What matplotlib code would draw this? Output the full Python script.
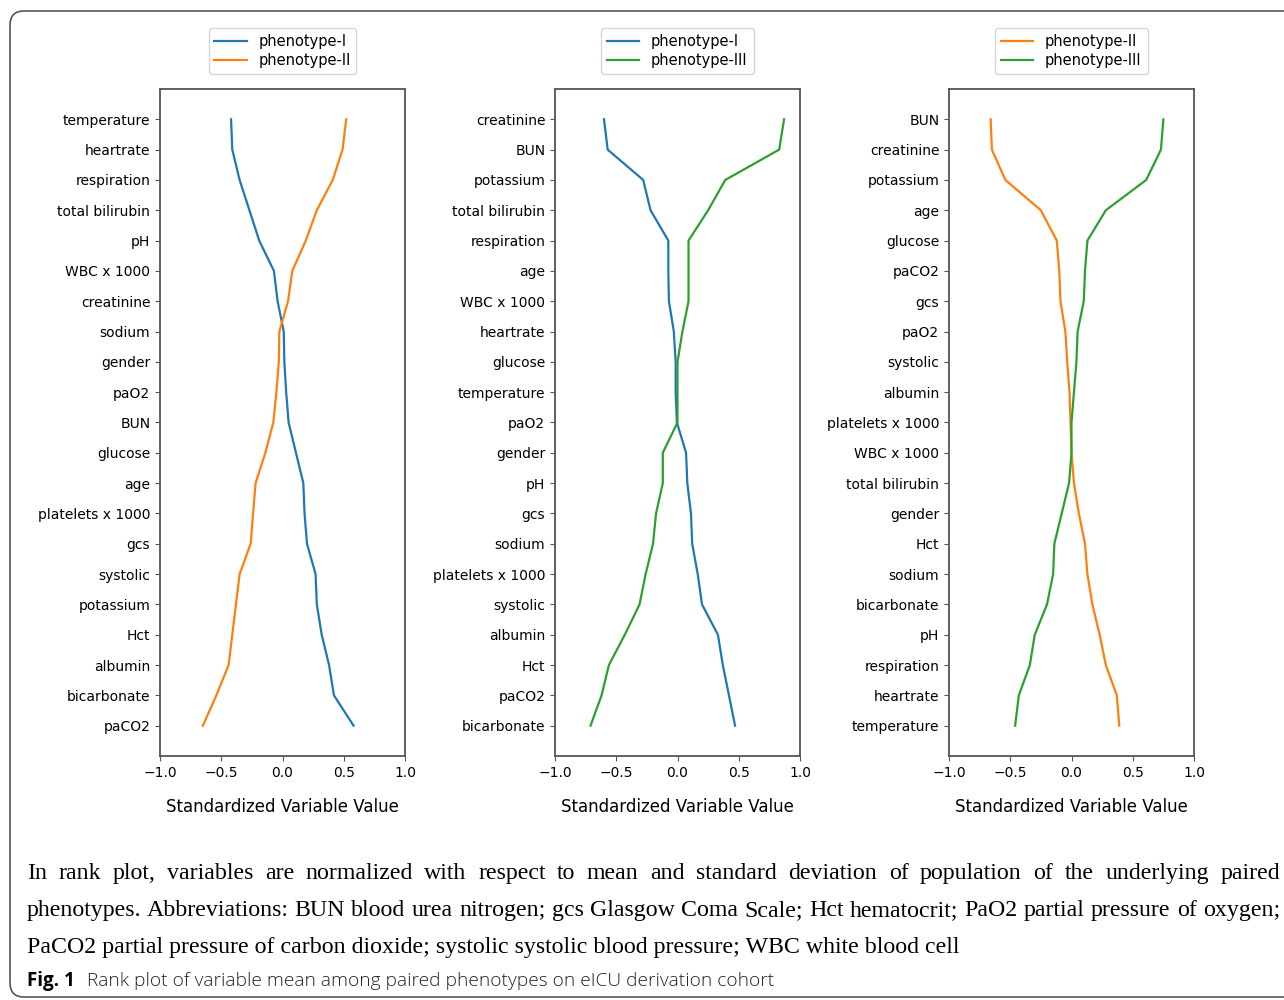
import matplotlib
matplotlib.use("Agg")
import matplotlib.pyplot as plt
from matplotlib.patches import FancyBboxPatch
from matplotlib.transforms import IdentityTransform

plt.rcParams["font.family"] = ["DejaVu Sans"]

# ---- data ----
labels_1 = ["temperature", "heartrate", "respiration", "total bilirubin", "pH",
            "WBC x 1000", "creatinine", "sodium", "gender", "paO2", "BUN",
            "glucose", "age", "platelets x 1000", "gcs", "systolic",
            "potassium", "Hct", "albumin", "bicarbonate", "paCO2"]
pheno1_p1 = [-0.42, -0.41, -0.35, -0.27, -0.19, -0.07, -0.04, 0.01, 0.015, 0.03,
             0.05, 0.11, 0.17, 0.18, 0.20, 0.27, 0.28, 0.32, 0.38, 0.42, 0.58]
pheno2_p1 = [0.52, 0.49, 0.41, 0.28, 0.19, 0.08, 0.045, -0.026, -0.03, -0.05,
             -0.075, -0.14, -0.22, -0.24, -0.26, -0.35, -0.38, -0.41, -0.44,
             -0.54, -0.65]

labels_2 = ["creatinine", "BUN", "potassium", "total bilirubin", "respiration",
            "age", "WBC x 1000", "heartrate", "glucose", "temperature", "paO2",
            "gender", "pH", "gcs", "sodium", "platelets x 1000", "systolic",
            "albumin", "Hct", "paCO2", "bicarbonate"]
pheno1_p2 = [-0.60, -0.57, -0.28, -0.22, -0.075, -0.075, -0.07, -0.03, -0.015,
             -0.015, -0.005, 0.07, 0.08, 0.11, 0.12, 0.165, 0.20, 0.33, 0.37,
             0.42, 0.47]
pheno3_p2 = [0.87, 0.83, 0.39, 0.25, 0.09, 0.09, 0.09, 0.04, 0.0, 0.0, 0.0,
             -0.12, -0.12, -0.175, -0.20, -0.26, -0.31, -0.43, -0.56, -0.62,
             -0.71]

labels_3 = ["BUN", "creatinine", "potassium", "age", "glucose", "paCO2", "gcs",
            "paO2", "systolic", "albumin", "platelets x 1000", "WBC x 1000",
            "total bilirubin", "gender", "Hct", "sodium", "bicarbonate", "pH",
            "respiration", "heartrate", "temperature"]
pheno2_p3 = [-0.66, -0.65, -0.54, -0.25, -0.12, -0.10, -0.09, -0.05, -0.035,
             -0.016, -0.008, 0.0, 0.02, 0.06, 0.11, 0.13, 0.17, 0.23, 0.28,
             0.37, 0.39]
pheno3_p3 = [0.75, 0.73, 0.61, 0.28, 0.13, 0.11, 0.10, 0.05, 0.04, 0.02, 0.0,
             0.0, -0.02, -0.08, -0.14, -0.15, -0.20, -0.30, -0.34, -0.43, -0.46]

xticks = [-1.0, -0.5, 0.0, 0.5, 1.0]

caption_justified = [
    "In rank plot, variables are normalized with respect to mean and standard "
    "deviation of population of the underlying paired",
    "phenotypes. Abbreviations: BUN blood urea nitrogen; gcs Glasgow Coma Scale; "
    "Hct hematocrit; PaO2 partial pressure of oxygen;",
]
caption_last = ("PaCO2 partial pressure of carbon dioxide; systolic systolic "
                "blood pressure; WBC white blood cell")
fig_title = "Rank plot of variable mean among paired phenotypes on eICU derivation cohort"

C_I, C_II, C_III = "#1f77b4", "#ff7f0e", "#2ca02c"

panels = [
    (labels_1, [(pheno1_p1, C_I, "phenotype-I"), (pheno2_p1, C_II, "phenotype-II")]),
    (labels_2, [(pheno1_p2, C_I, "phenotype-I"), (pheno3_p2, C_III, "phenotype-III")]),
    (labels_3, [(pheno2_p3, C_II, "phenotype-II"), (pheno3_p3, C_III, "phenotype-III")]),
]

W, H = 1284, 1000
fig = plt.figure(figsize=(W / 100, H / 100), dpi=100)

lefts = [160, 555, 949]
for left, (labels, series) in zip(lefts, panels):
    ax = fig.add_axes([left / W, (H - 756) / H, 245 / W, 667 / H])
    ypos = list(range(len(labels)))
    for vals, col, name in series:
        ax.plot(vals, ypos, color=col, lw=1.6, label=name)
    ax.set_yticks(ypos)
    ax.set_yticklabels(labels, fontsize=10)
    ax.set_ylim(len(labels), -1)
    ax.set_xlim(-1.0, 1.0)
    ax.set_xticks(xticks)
    ax.set_xticklabels(["\u22121.0", "\u22120.5", "0.0", "0.5", "1.0"], fontsize=10)
    ax.set_xlabel("Standardized Variable Value", fontsize=12, labelpad=13)
    for sp in ax.spines.values():
        sp.set_color("#555555")
        sp.set_linewidth(1.3)
    ax.tick_params(color="#555555")
    ax.legend(loc="lower center", bbox_to_anchor=(0.5, 1.022), borderaxespad=0,
              fontsize=10.5, handlelength=2.2, borderpad=0.4, labelspacing=0.3)

# outer rounded frame
frame = FancyBboxPatch((10, 3), W + 40, H - 14, boxstyle="round,pad=0,rounding_size=14",
                       transform=IdentityTransform(), fill=False,
                       edgecolor="#555555", linewidth=1.2)
fig.patches.append(frame)

# caption, first two lines justified
renderer = fig.canvas.get_renderer()
x0, x1 = 27, 1280
baselines = [879, 916, 953]
cap_font = dict(family="Liberation Serif", fontsize=17.2)


def text_width(s):
    t = fig.text(0, 0, s, **cap_font)
    w = t.get_window_extent(renderer).width
    t.remove()
    return w


for line, yb in zip(caption_justified, baselines):
    words = line.split(" ")
    extra = (x1 - x0 - text_width(line)) / (len(words) - 1)
    for i, w in enumerate(words):
        prefix = " ".join(words[:i + 1])
        x = x0 + text_width(prefix) - text_width(w) + i * extra
        fig.text(x / W, (H - yb) / H, w, va="baseline", ha="left", **cap_font)
fig.text(x0 / W, (H - baselines[2]) / H, caption_last, va="baseline", ha="left",
         **cap_font)

fig.text(27 / W, (H - 986) / H, "Fig. 1", va="baseline", ha="left",
         family="Open Sans", fontweight="bold", fontsize=13.5)
fig.text(87 / W, (H - 986) / H, fig_title, va="baseline", ha="left",
         family="Open Sans", fontweight="light", fontsize=13.8, color="#222222")

fig.savefig("out.png", dpi=100)
